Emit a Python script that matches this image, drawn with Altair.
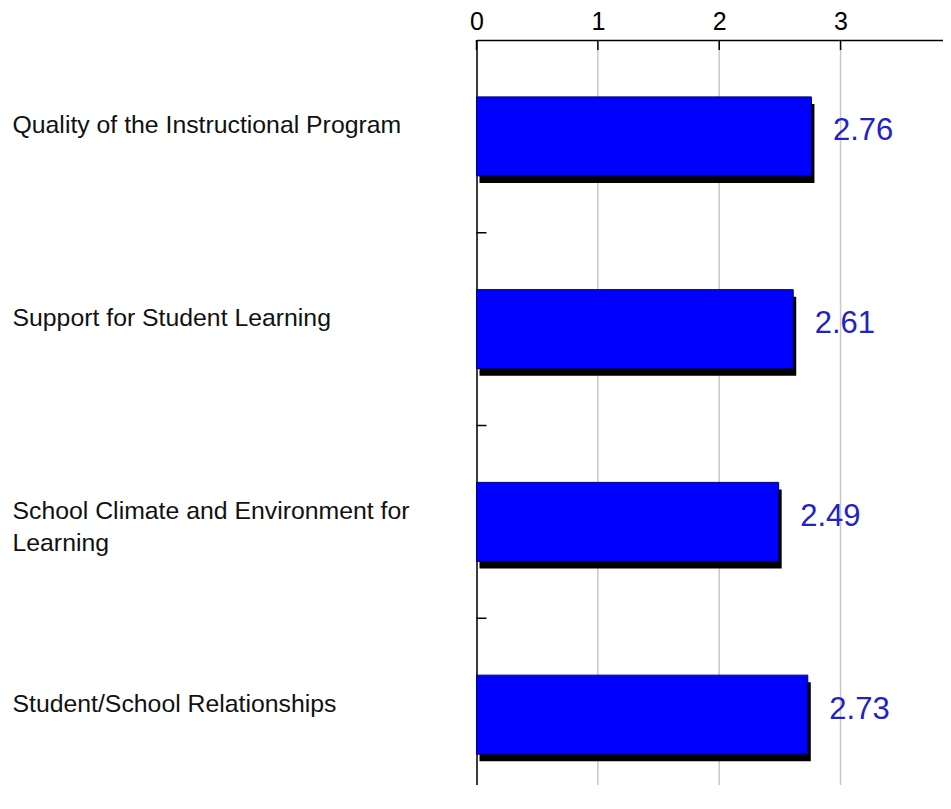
import altair as alt
import pandas as pd

categories = [
    "Quality of the Instructional Program",
    "Support for Student Learning",
    "School Climate and Environment for|Learning",
    "Student/School Relationships",
]
values = [2.76, 2.61, 2.49, 2.73]
x_ticks = [0, 1, 2, 3]

df = pd.DataFrame({"cat": categories, "value": values})
df_ticks_x = pd.DataFrame({"t": x_ticks})
df_ticks_y = pd.DataFrame({"cat": categories[1:]})

y_scale = alt.Scale(domain=categories, paddingInner=0, paddingOuter=0, range=[0, 771])
x_scale = alt.Scale(domain=[0, 3.91], nice=False, zero=True, range=[0, 474.5])

FONT = "Liberation Sans"

x_axis = alt.Axis(
    orient="top", values=x_ticks, format="d", title=None, ticks=False, tickSize=0,
    labelFontSize=25, labelFont=FONT, labelColor="#000000",
    labelPadding=11, labelBaseline="alphabetic", labelFlush=False,
    domainColor="#000000", domainWidth=1.5, grid=False,
)
y_axis = alt.Axis(
    orient="left", title=None, ticks=False, tickSize=0,
    labelAlign="left", labelPadding=464.5, labelLimit=460,
    labelFontSize=24.8, labelFont=FONT, labelColor="#111111",
    labelBaseline="alphabetic", labelOffset=-3, labelLineHeight=32,
    labelExpr="split(datum.label, '|')",
    domainColor="#000000", domainWidth=1.5, grid=False,
)

base = alt.Chart(df)

grid = alt.Chart(df_ticks_x).transform_filter("datum.t > 0").mark_rule(
    color="#c8c8c8", strokeWidth=1.5
).encode(
    x=alt.X("t:Q", scale=x_scale, axis=x_axis),
    y=alt.value(0),
    y2=alt.value(790),
)

shadow = base.mark_bar(
    color="#000000", size=79, xOffset=3, x2Offset=7, yOffset=7
).encode(
    x=alt.X("value:Q", scale=x_scale),
    y=alt.Y("cat:N", scale=y_scale, axis=y_axis, sort=categories),
)

bars = base.mark_bar(
    color="#0000ff", size=79, stroke="#000060", strokeWidth=1
).encode(
    x=alt.X("value:Q", scale=x_scale),
    y=alt.Y("cat:N", scale=y_scale, sort=categories),
)

labels = base.mark_text(
    align="left", baseline="middle", dx=21.5, dy=-5,
    fontSize=31, font=FONT, color="#2222c4",
).encode(
    x=alt.X("value:Q", scale=x_scale),
    y=alt.Y("cat:N", scale=y_scale, sort=categories),
    text=alt.Text("value:Q", format=".2f"),
)

xticks = alt.Chart(df_ticks_x).mark_rule(color="#000000", strokeWidth=1.5).encode(
    x=alt.X("t:Q", scale=x_scale),
    y=alt.value(0),
    y2=alt.value(10),
)

yticks = alt.Chart(df_ticks_y).mark_rule(color="#000000", strokeWidth=1.5).encode(
    y=alt.Y("cat:N", scale=y_scale, sort=categories, bandPosition=0),
    x=alt.value(0),
    x2=alt.value(10),
)

chart = alt.layer(grid, shadow, bars, labels, xticks, yticks).properties(
    width=466.5,
    height=745,
    autosize=alt.AutoSizeParams(type="none"),
    padding={"left": 468.5, "top": 32, "right": 0, "bottom": 0},
).configure_view(stroke=None).configure(background="#ffffff")

chart.save("out.html", embed_options={"renderer": "svg", "actions": False})
